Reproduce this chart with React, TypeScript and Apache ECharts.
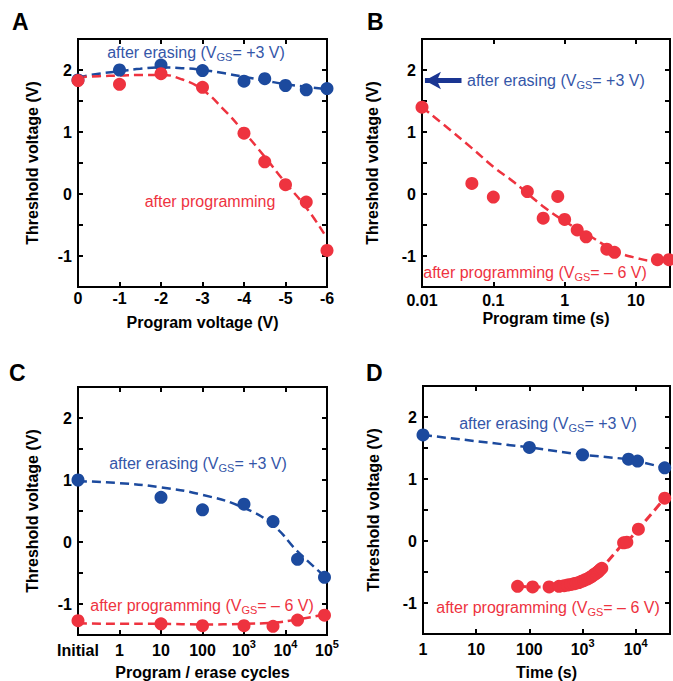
import React, { useEffect, useRef } from 'react';
import * as echarts from 'echarts';

const FONT = '"Liberation Sans", Arial, Helvetica, sans-serif';
const BLUE = '#1c4a9e';
const BLUE_TEXT = '#3456a8';
const RED = '#ee333f';
const NAVY = '#1a3592';

// ---- Panel A: threshold voltage vs program voltage ----
const aVoltage = [0, -1, -2, -3, -4, -4.5, -5, -5.5, -6];
const aErase = [1.84, 2.0, 2.08, 1.99, 1.82, 1.86, 1.75, 1.68, 1.7];
const aProgram = [1.83, 1.77, 1.94, 1.72, 0.98, 0.52, 0.15, -0.13, -0.91];
const aEraseFitX = [0, -0.5, -1, -1.5, -2, -2.5, -3, -3.5, -4, -4.5, -5, -5.5, -6];
const aEraseFit = [1.88, 1.94, 1.98, 2.02, 2.04, 2.03, 2.0, 1.95, 1.89, 1.83, 1.77, 1.73, 1.69];
const aProgFitX = [0, -0.5, -1, -1.5, -2, -2.5, -3, -3.5, -4, -4.5, -5, -5.5, -5.93];
const aProgFit = [1.88, 1.9, 1.91, 1.92, 1.92, 1.85, 1.68, 1.37, 1.0, 0.6, 0.18, -0.22, -0.64];

// ---- Panel B: threshold voltage vs program time ----
const bTime = [0.01, 0.05, 0.1, 0.3, 0.5, 0.8, 1.0, 1.5, 2.0, 3.9, 5.0, 20, 29];
const bProgram = [1.4, 0.17, -0.05, 0.04, -0.39, -0.04, -0.41, -0.58, -0.69, -0.89, -0.94, -1.06, -1.06];
const bFitT = [0.01, 0.02, 0.05, 0.1, 0.2, 0.5, 1, 2, 5, 10, 20, 30];
const bFit = [1.4, 1.12, 0.74, 0.44, 0.18, -0.2, -0.44, -0.64, -0.91, -1.03, -1.08, -1.06];
const bArrowFrom = [0.011, 1.83];
const bArrowTo = [0.0358, 1.83];

// ---- Panel C: threshold voltage vs program / erase cycles ----
const cCycles = [0.1, 10, 100, 1000, 5000, 19500, 87000];
const cErase = [1.0, 0.72, 0.52, 0.61, 0.33, -0.28, -0.57];
const cProgram = [-1.27, -1.32, -1.35, -1.35, -1.36, -1.26, -1.18];
const cFitX = [0.1, 1, 10, 100, 1000, 5000, 19500, 87000];
const cEraseFit = [0.98, 0.95, 0.88, 0.76, 0.55, 0.27, -0.15, -0.55];
const cProgFit = [-1.31, -1.32, -1.32, -1.33, -1.32, -1.3, -1.25, -1.17];

// ---- Panel D: retention ----
const dEraseT = [1, 100, 1000, 7300, 10800, 35000];
const dErase = [1.71, 1.51, 1.39, 1.32, 1.29, 1.18];
const dProgT = [60, 115, 235, 360, 450, 520, 600, 680, 760, 850, 950, 1050, 1150, 1250, 1350, 1450, 1550, 1650, 1750, 1850, 1950, 2050, 2150, 2300, 5900, 6800, 11200, 35000];
const dProg = [-0.73, -0.74, -0.74, -0.73, -0.72, -0.71, -0.7, -0.69, -0.68, -0.67, -0.65, -0.64, -0.62, -0.61, -0.59, -0.58, -0.56, -0.54, -0.53, -0.51, -0.5, -0.48, -0.46, -0.44, -0.03, -0.02, 0.19, 0.69];

// ---- tick labels ----
const yTickLabels = ['-1', '0', '1', '2'];
const bTickLabels = ['0.01', '0.1', '1', '10'];
const cTickLabels = ['Initial', '1', '10', '100', '10^3', '10^4', '10^5'];
const dTickLabels = ['1', '10', '100', '10^3', '10^4'];

const zip = (xs: number[], ys: number[]) => xs.map((x, i) => [x, ys[i]]);

const tick = { show: true, inside: true, length: 5, lineStyle: { color: '#000', width: 2 } };
const noLine = { show: false, onZero: false };
const nameStyle = { fontFamily: FONT, fontWeight: 'bold', fontSize: 16, color: '#000' };
const labelBase = { fontFamily: FONT, fontWeight: 'bold', fontSize: 16, color: '#000' };
const supRich = {
  b: { fontFamily: FONT, fontWeight: 'bold', fontSize: 16, color: '#000', lineHeight: 20, verticalAlign: 'middle' },
  p: { fontFamily: FONT, fontWeight: 'bold', fontSize: 11, color: '#000', lineHeight: 20, verticalAlign: 'middle', padding: [0, 0, 12, 0] },
};
const toRich = (s: string) => {
  const [base, sup] = s.split('^');
  return sup ? `{b|${base}}{p|${sup}}` : `{b|${base}}`;
};
const decadeLabel = (labels: string[], offset: number, rich: boolean) => (v: number) => {
  const l = Math.log10(v);
  const e = Math.round(l);
  if (Math.abs(l - e) > 0.01) return '';
  const s = labels[e + offset];
  if (s === undefined) return '';
  return rich ? toRich(s) : s;
};

function yAxes(gi: number, nameGap: number) {
  return [
    {
      type: 'value', gridIndex: gi, min: -1.5, max: 2.5, interval: 0.5, position: 'left',
      axisLine: noLine, axisTick: tick, splitLine: { show: false },
      axisLabel: {
        ...labelBase, margin: 6,
        formatter: (v: number) => (Number.isInteger(v) && yTickLabels.includes(String(v)) ? String(v) : ''),
      },
      name: 'Threshold voltage (V)', nameLocation: 'middle', nameGap, nameTextStyle: nameStyle,
    },
    {
      type: 'value', gridIndex: gi, min: -1.5, max: 2.5, interval: 0.5, position: 'right',
      axisLine: noLine, axisTick: tick, splitLine: { show: false }, axisLabel: { show: false },
    },
  ];
}

function xAxes(gi: number, base: any, label: any, name: string, nameGap: number) {
  return [
    {
      ...base, gridIndex: gi, position: 'bottom',
      axisLine: noLine, axisTick: tick, splitLine: { show: false }, minorTick: { show: false },
      axisLabel: label, name, nameLocation: 'middle', nameGap, nameTextStyle: nameStyle,
    },
    {
      ...base, gridIndex: gi, position: 'top',
      axisLine: noLine, axisTick: tick, splitLine: { show: false }, axisLabel: { show: false },
    },
  ];
}

const dashed = (color: string) => ({ color, width: 2.5, type: [9, 5] as any });

function annot(x: number, y: number, parts: [string, boolean][], color: string, align = 'center') {
  const text = parts.map(([t, sub]) => `{${sub ? 's' : 'n'}|${t}}`).join('');
  return {
    type: 'text', x, y, z: 20,
    style: {
      text, align, verticalAlign: 'middle', textAlign: align, textVerticalAlign: 'middle',
      rich: {
        n: { fontFamily: FONT, fontSize: 16, fill: color, lineHeight: 20, verticalAlign: 'middle' },
        s: { fontFamily: FONT, fontSize: 11, fill: color, lineHeight: 20, verticalAlign: 'middle', padding: [9, 0, 0, 0] },
      },
    },
  };
}

function letter(x: number, y: number, t: string) {
  return {
    type: 'text', x, y, z: 20,
    style: { text: t, fontFamily: FONT, fontWeight: 'bold', fontSize: 23, fill: '#000', verticalAlign: 'middle', textVerticalAlign: 'middle' },
  };
}

const ERASE: [string, boolean][] = [['after erasing (V', false], ['GS', true], ['= +3 V)', false]];
const PROG6: [string, boolean][] = [['after programming (V', false], ['GS', true], ['= – 6 V)', false]];

export default function App() {
  const ref = useRef<HTMLDivElement>(null);
  useEffect(() => {
    if (!ref.current) return;
    const chart = echarts.init(ref.current, undefined, { renderer: 'svg' });
    const gridBase = { show: true, borderColor: '#000', borderWidth: 2, backgroundColor: 'transparent', containLabel: false };
    const option: any = {
      animation: false,
      backgroundColor: '#fff',
      grid: [
        { ...gridBase, left: 78, top: 39, width: 249, height: 248 },
        { ...gridBase, left: 422, top: 39, width: 249, height: 248 },
        { ...gridBase, left: 78, top: 387, width: 249, height: 250 },
        { ...gridBase, left: 423, top: 386, width: 249, height: 252 },
      ],
      xAxis: [
        ...xAxes(0, { type: 'value', min: -6, max: 0, interval: 1, inverse: true },
          { ...labelBase, margin: 3, formatter: (v: number) => String(v) }, 'Program voltage (V)', 27),
        ...xAxes(1, { type: 'log', logBase: 10, min: 0.01, max: 30 },
          { ...labelBase, margin: 5, formatter: decadeLabel(bTickLabels, 2, false) }, 'Program time (s)', 23),
        ...xAxes(2, { type: 'log', logBase: 10, min: 0.1, max: 100000 },
          { ...labelBase, margin: 5, rich: supRich, formatter: decadeLabel(cTickLabels, 1, true) }, 'Program / erase cycles', 29),
        ...xAxes(3, { type: 'log', logBase: 10, min: 1, max: 44000 },
          { ...labelBase, margin: 5, rich: supRich, formatter: decadeLabel(dTickLabels, 0, true) }, 'Time (s)', 30),
      ],
      yAxis: [...yAxes(0, 38), ...yAxes(1, 42), ...yAxes(2, 38), ...yAxes(3, 42)],
      series: [
        // A
        { type: 'line', xAxisIndex: 0, yAxisIndex: 0, data: zip(aEraseFitX, aEraseFit), smooth: true, symbol: 'none', lineStyle: dashed(BLUE), z: 2 },
        { type: 'line', xAxisIndex: 0, yAxisIndex: 0, data: zip(aProgFitX, aProgFit), smooth: true, symbol: 'none', lineStyle: dashed(RED), z: 2 },
        { type: 'scatter', xAxisIndex: 0, yAxisIndex: 0, data: zip(aVoltage, aErase), symbolSize: 13, itemStyle: { color: BLUE, opacity: 1 }, z: 3 },
        { type: 'scatter', xAxisIndex: 0, yAxisIndex: 0, data: zip(aVoltage, aProgram), symbolSize: 13, itemStyle: { color: RED, opacity: 1 }, z: 4 },
        // B
        {
          type: 'line', xAxisIndex: 2, yAxisIndex: 2, data: zip(bFitT, bFit), smooth: true, symbol: 'none', lineStyle: dashed(RED), z: 2,
          markLine: {
            silent: true, symbol: ['arrow', 'none'], symbolSize: [13, 16], label: { show: false },
            lineStyle: { color: NAVY, width: 5, type: 'solid' }, emphasis: { disabled: true },
            data: [[{ coord: bArrowFrom }, { coord: bArrowTo }]],
          },
        },
        { type: 'scatter', xAxisIndex: 2, yAxisIndex: 2, data: zip(bTime, bProgram), symbolSize: 13, itemStyle: { color: RED, opacity: 1 }, z: 4 },
        // C
        { type: 'line', xAxisIndex: 4, yAxisIndex: 4, data: zip(cFitX, cEraseFit), smooth: true, symbol: 'none', lineStyle: dashed(BLUE), z: 2 },
        { type: 'line', xAxisIndex: 4, yAxisIndex: 4, data: zip(cFitX, cProgFit), smooth: true, symbol: 'none', lineStyle: dashed(RED), z: 2 },
        { type: 'scatter', xAxisIndex: 4, yAxisIndex: 4, data: zip(cCycles, cErase), symbolSize: 13, itemStyle: { color: BLUE, opacity: 1 }, z: 3 },
        { type: 'scatter', xAxisIndex: 4, yAxisIndex: 4, data: zip(cCycles, cProgram), symbolSize: 13, itemStyle: { color: RED, opacity: 1 }, z: 4 },
        // D
        { type: 'line', xAxisIndex: 6, yAxisIndex: 6, data: zip(dEraseT, dErase), symbol: 'circle', symbolSize: 13, showAllSymbol: true, itemStyle: { color: BLUE }, lineStyle: dashed(BLUE), z: 3 },
        { type: 'line', xAxisIndex: 6, yAxisIndex: 6, data: zip(dProgT, dProg), symbol: 'circle', symbolSize: 13, showAllSymbol: true, itemStyle: { color: RED }, lineStyle: { color: RED, width: 3, type: [9, 5] as any }, z: 3 },
      ],
      graphic: [
        letter(12, 22, 'A'), letter(367, 22, 'B'), letter(9, 373, 'C'), letter(366, 373, 'D'),
        annot(196, 52, ERASE, BLUE_TEXT),
        annot(210, 201, [['after programming', false]], RED),
        annot(467, 80, ERASE, BLUE_TEXT, 'left'),
        annot(535, 272, PROG6, RED),
        annot(198, 463, ERASE, BLUE_TEXT),
        annot(202, 605, PROG6, RED),
        annot(548, 423, ERASE, BLUE_TEXT),
        annot(548, 607, PROG6, RED),
      ],
    };
    chart.setOption(option);
    return () => chart.dispose();
  }, []);
  return <div ref={ref} style={{ position: 'absolute', left: 0, top: 0, width: 673, height: 681 }} />;
}
